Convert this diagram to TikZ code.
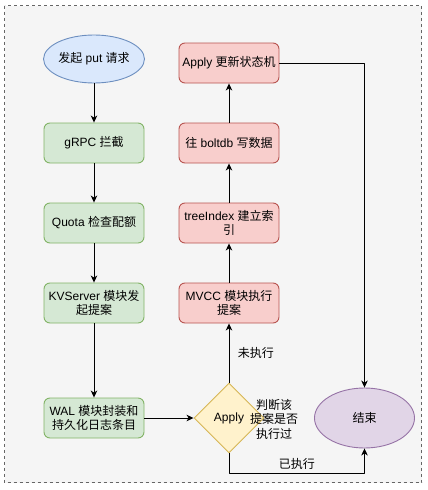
\documentclass[tikz,border=0pt]{standalone}
\usepackage{fontspec}
\setmainfont{Liberation Sans}
\newfontfamily\cjk{Noto Sans CJK SC}
\usetikzlibrary{shapes.geometric,arrows.meta}
\definecolor{bgfill}{HTML}{F5F5F5}
\definecolor{bgline}{HTML}{666666}
\definecolor{bluefill}{HTML}{DAE8FC} \definecolor{blueline}{HTML}{6C8EBF}
\definecolor{greenfill}{HTML}{D5E8D4} \definecolor{greenline}{HTML}{82B366}
\definecolor{redfill}{HTML}{F8CECC} \definecolor{redline}{HTML}{B85450}
\definecolor{yellowfill}{HTML}{FFF2CC} \definecolor{yellowline}{HTML}{D6B656}
\definecolor{purplefill}{HTML}{E1D5E7} \definecolor{purpleline}{HTML}{9673A6}

\begin{document}
\begin{tikzpicture}[x=1pt,y=-1pt,>={Stealth[length=7pt,width=6.5pt,inset=2pt]}, line width=0.9pt, font=\fontsize{12}{14.5}\selectfont, line join=round, line cap=round,
	box/.style={rectangle, rounded corners=6pt, minimum width=100pt, minimum height=40pt, align=center, inner sep=2pt},
	greenbox/.style={box, fill=greenfill, draw=greenline},
	redbox/.style={box, fill=redfill, draw=redline}]
	\useasboundingbox (0,0) rectangle (428,490);
	\draw[fill=bgfill, draw=bgline, dashed, line width=0.7pt, line cap=butt, dash pattern=on 3pt off 3pt] (4.5,5.5) rectangle (421.5,482.5);
	\def\xl{94} \def\xr{229} % hai cột
	% cột trái
	\node[ellipse, fill=bluefill, draw=blueline, minimum width=100pt, minimum height=48pt, inner sep=0pt] (start) at (\xl,59) {{\cjk 发起} put {\cjk 请求}};
	\node[greenbox] (grpc) at (\xl,143) {gRPC {\cjk 拦截}};
	\node[greenbox] (quota) at (\xl,223) {Quota {\cjk 检查配额}};
	\node[greenbox] (kvsrv) at (\xl,303) {KVServer {\cjk 模块发}\\{\cjk 起提案}};
	\node[greenbox] (wal) at (\xl,418) {WAL {\cjk 模块封装和}\\{\cjk 持久化日志条目}};
	% cột phải
	\node[diamond, shape aspect=1, minimum size=70pt, inner sep=0pt, fill=yellowfill, draw=yellowline] (judge) at (\xr,418) {Apply};
	\node[redbox] (mvcc) at (\xr,303) {MVCC {\cjk 模块执行}\\{\cjk 提案}};
	\node[redbox] (tindex) at (\xr,223) {treeIndex {\cjk 建立索}\\{\cjk 引}};
	\node[redbox] (boltdb) at (\xr,143) {{\cjk 往} boltdb {\cjk 写数据}};
	\node[redbox] (apply) at (\xr,63) {Apply {\cjk 更新状态机}};
	\node[ellipse, fill=purplefill, draw=purpleline, minimum width=100pt, minimum height=60pt, inner sep=0pt] (fin) at (364.5,418) {\cjk 结束};
	\node[align=center] (note) at (274,419) {\cjk 判断该\\\cjk 提案是否\\\cjk 执行过};
	% mũi tên
	\draw[->] (start) -- (grpc);
	\draw[->] (grpc) -- (quota);
	\draw[->] (quota) -- (kvsrv);
	\draw[->] (kvsrv) -- (wal);
	\draw[->] (wal) -- (judge);
	\draw[->] (judge) -- node[right=5pt]{\cjk 未执行} (mvcc);
	\draw[->] (mvcc) -- (tindex);
	\draw[->] (tindex) -- (boltdb);
	\draw[->] (boltdb) -- (apply);
	\draw[->] (apply.east) -| (fin.north);
	\draw[->] (judge.south) -- ++(0,20) -| node[pos=0.25, above]{\cjk 已执行} (fin.south);
\end{tikzpicture}
\end{document}
